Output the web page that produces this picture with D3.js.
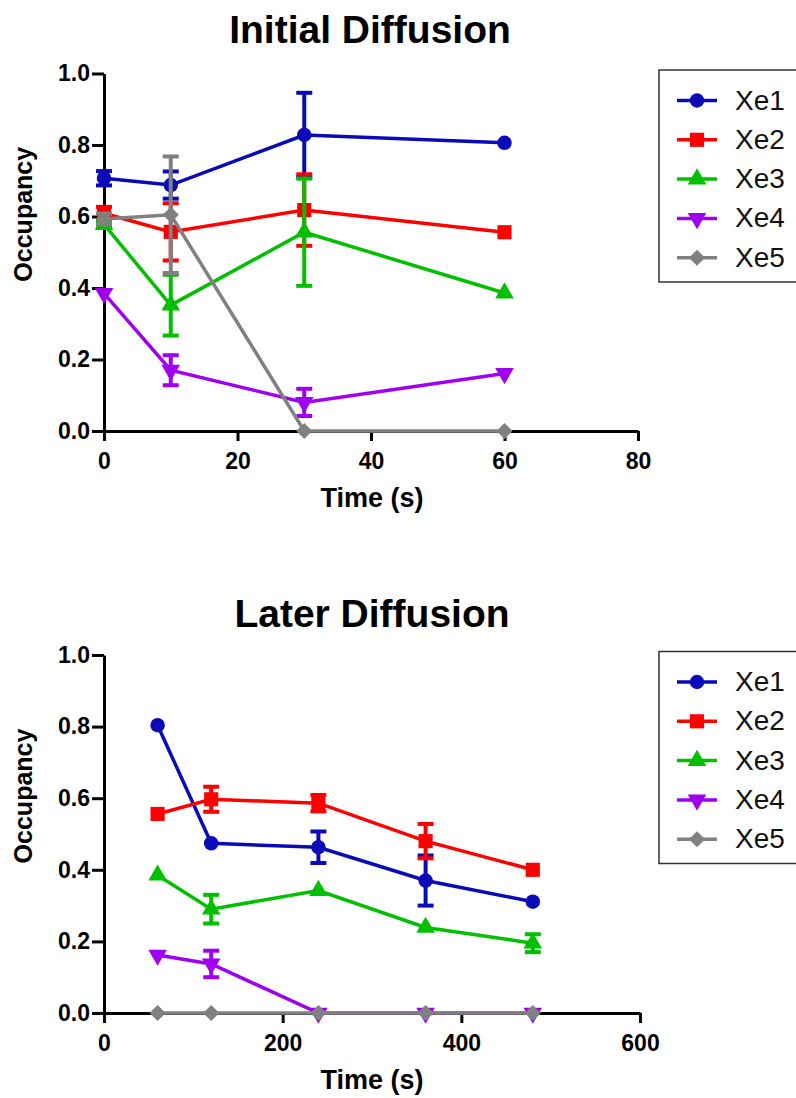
<!DOCTYPE html>
<html>
<head>
<meta charset="utf-8">
<script src="https://cdn.jsdelivr.net/npm/d3@7.9.0/dist/d3.min.js"></script>
<style>
  body { margin: 0; background: #fff; }
  svg { display: block; font-family: "Liberation Sans", Arial, sans-serif; }
  .axis path, .axis line { stroke: #000; stroke-width: 3; }
  .axis text { font-size: 23px; font-weight: bold; fill: #000; }
</style>
</head>
<body>
<svg width="796" height="1098"></svg>
<script>
const seriesNames = ['Xe1', 'Xe2', 'Xe3', 'Xe4', 'Xe5'];

const initialTimes = [0, 10, 30, 60];
const initialMean = [
  [0.707, 0.688, 0.828, 0.806],
  [0.609, 0.557, 0.618, 0.556],
  [0.578, 0.352, 0.556, 0.386],
  [0.385, 0.170, 0.080, 0.161],
  [0.593, 0.605, 0.000, 0.000],
];
const initialErr = [
  [0.020, 0.038, 0.118, 0],
  [0.018, 0.080, 0.100, 0],
  [0.010, 0.085, 0.150, 0],
  [0.000, 0.042, 0.038, 0],
  [0.015, 0.163, 0.000, 0],
];
const initialTicks = [0, 20, 40, 60, 80];

const laterTimes = [60, 120, 240, 360, 480];
const laterMean = [
  [0.804, 0.474, 0.463, 0.370, 0.311],
  [0.556, 0.597, 0.586, 0.480, 0.400],
  [0.385, 0.290, 0.342, 0.239, 0.195],
  [0.162, 0.137, 0.000, 0.000, 0.000],
  [0.000, 0.000, 0.000, 0.000, 0.000],
];
const laterErr = [
  [0, 0, 0.044, 0.070, 0],
  [0, 0.035, 0.023, 0.048, 0],
  [0, 0.040, 0, 0, 0.025],
  [0, 0.037, 0, 0, 0],
  [0, 0, 0, 0, 0],
];
const laterTicks = [0, 200, 400, 600];

const yTicks = [0, 0.2, 0.4, 0.6, 0.8, 1.0];

const colors = ['#0a0ab8', '#ff0000', '#00c000', '#a000f0', '#808080'];
const symbols = [
  { type: d3.symbolCircle, size: 165, rot: 0 },
  { type: d3.symbolSquare, size: 200, rot: 0 },
  { type: d3.symbolTriangle, size: 150, rot: 0 },
  { type: d3.symbolTriangle, size: 150, rot: 180 },
  { type: d3.symbolSquare, size: 130, rot: 45 },
];

const svg = d3.select('svg');

function drawMarker(g, i, x, y) {
  g.append('path')
    .attr('d', d3.symbol().type(symbols[i].type).size(symbols[i].size)())
    .attr('transform', `translate(${x},${y}) rotate(${symbols[i].rot})`)
    .attr('fill', colors[i]);
}

function drawPanel(opt) {
  const x = d3.scaleLinear().domain(opt.xDomain).range([104, opt.xRight]);
  const y = d3.scaleLinear().domain([0, 1]).range([opt.bottom, opt.top]);
  const g = svg.append('g');

  g.append('text')
    .attr('x', opt.titleX).attr('y', opt.titleY)
    .attr('text-anchor', 'middle')
    .attr('font-size', 39).attr('font-weight', 'bold')
    .text(opt.title);

  g.append('g').attr('class', 'axis')
    .attr('transform', `translate(0,${opt.bottom})`)
    .call(d3.axisBottom(x).tickValues(opt.xTicks).tickSize(10).tickSizeOuter(0).tickPadding(12));

  g.append('g').attr('class', 'axis')
    .attr('transform', 'translate(104,0)')
    .call(d3.axisLeft(y).tickValues(yTicks).tickFormat(d3.format('.1f')).tickSize(12).tickSizeOuter(0).tickPadding(2));

  g.selectAll('.axis').attr('font-family', null).attr('font-size', null);

  g.append('text')
    .attr('transform', `translate(32,${(opt.top + opt.bottom) / 2 - 38}) rotate(-90)`)
    .attr('text-anchor', 'middle')
    .attr('font-size', 25).attr('font-weight', 'bold')
    .text('Occupancy');

  g.append('text')
    .attr('x', 372).attr('y', opt.bottom + 76)
    .attr('text-anchor', 'middle')
    .attr('font-size', 27).attr('font-weight', 'bold')
    .text('Time (s)');

  const line = d3.line().x(d => x(d[0])).y(d => y(d[1]));

  seriesNames.forEach((name, i) => {
    const pts = opt.times.map((t, j) => [t, opt.mean[i][j], opt.err[i][j]]);
    const s = g.append('g');
    s.append('path')
      .attr('d', line(pts))
      .attr('fill', 'none')
      .attr('stroke', colors[i])
      .attr('stroke-width', 3.5);
    pts.filter(p => p[2] > 0).forEach(p => {
      const cx = x(p[0]);
      const y1 = y(p[1] + p[2]);
      const y2 = y(p[1] - p[2]);
      s.append('line').attr('x1', cx).attr('x2', cx).attr('y1', y1).attr('y2', y2)
        .attr('stroke', colors[i]).attr('stroke-width', 4);
      [y1, y2].forEach(yy => {
        s.append('line').attr('x1', cx - 8).attr('x2', cx + 8).attr('y1', yy).attr('y2', yy)
          .attr('stroke', colors[i]).attr('stroke-width', 4);
      });
    });
    pts.forEach(p => drawMarker(s, i, x(p[0]), y(p[1])));
  });

  // legend
  const lg = g.append('g');
  lg.append('rect')
    .attr('x', 659).attr('y', opt.top - 3.5)
    .attr('width', 200).attr('height', 212)
    .attr('fill', '#fff').attr('stroke', '#333').attr('stroke-width', 1.5);
  seriesNames.forEach((name, i) => {
    const ly = opt.top + 27 + i * 39.3;
    lg.append('line').attr('x1', 677).attr('x2', 717).attr('y1', ly).attr('y2', ly)
      .attr('stroke', colors[i]).attr('stroke-width', 3.5);
    drawMarker(lg, i, 697, ly);
    lg.append('text').attr('x', 735).attr('y', ly + 9)
      .attr('font-size', 28).attr('fill', '#111')
      .text(name);
  });
}

drawPanel({
  title: 'Initial Diffusion', titleX: 370, titleY: 43,
  xDomain: [0, 80], xRight: 638, top: 73.5, bottom: 431,
  xTicks: initialTicks, times: initialTimes, mean: initialMean, err: initialErr,
});

drawPanel({
  title: 'Later Diffusion', titleX: 372, titleY: 627,
  xDomain: [0, 600], xRight: 640, top: 655, bottom: 1013,
  xTicks: laterTicks, times: laterTimes, mean: laterMean, err: laterErr,
});
</script>
</body>
</html>
